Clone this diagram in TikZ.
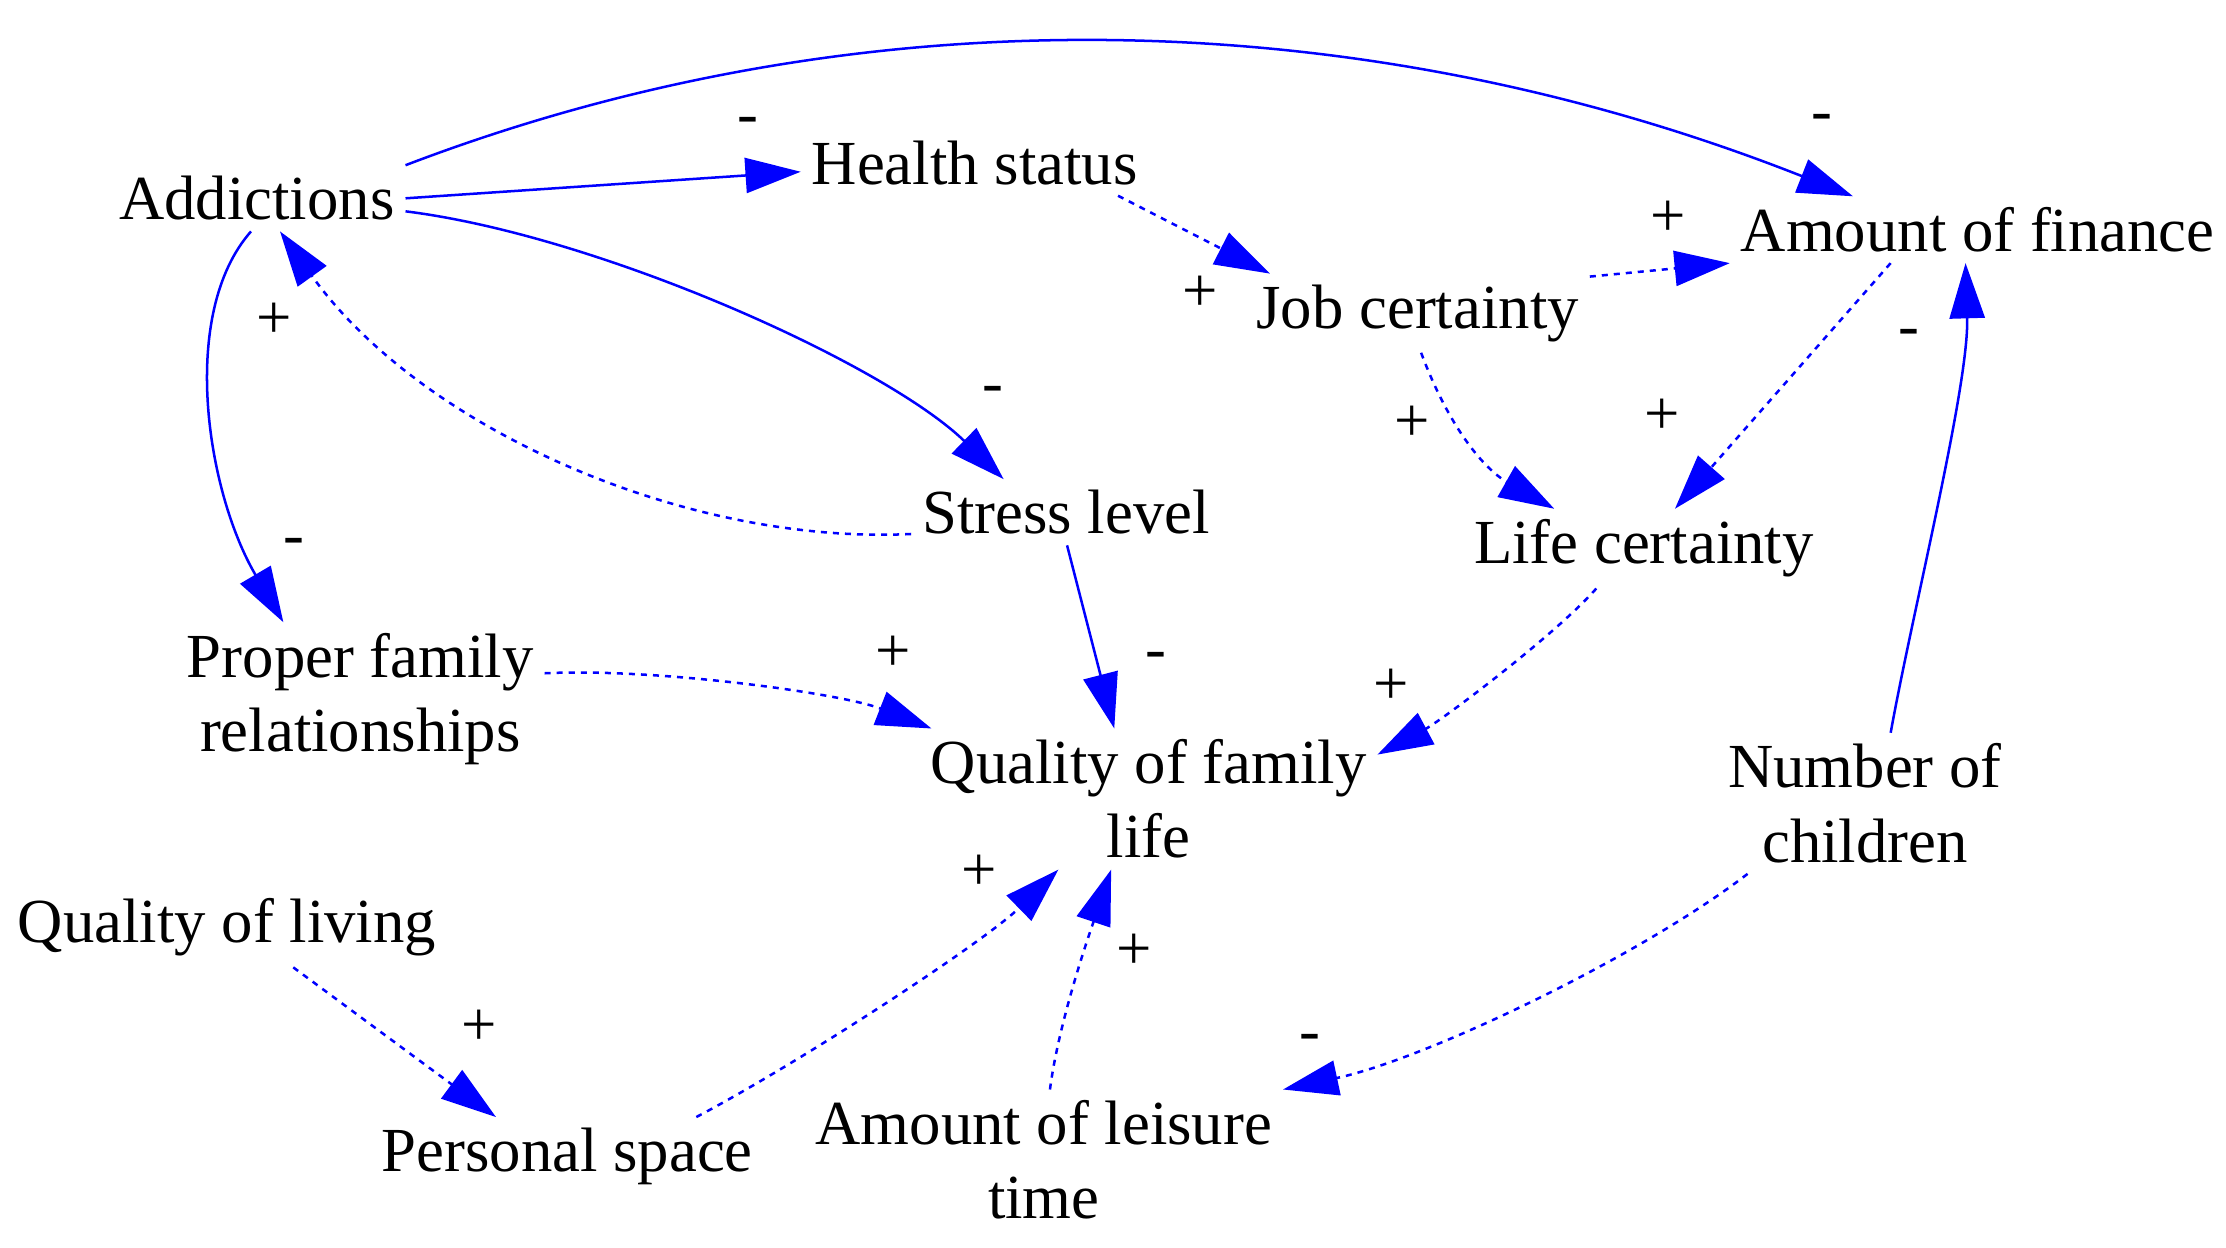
\documentclass[tikz,border=0pt]{standalone}
\usepackage{fontspec}
\setmainfont{Liberation Serif}
\usetikzlibrary{arrows.meta}

\begin{document}
\begin{tikzpicture}[
      x=0.01cm, y=0.01cm,
      varbox/.style={
         inner sep=2pt,
         align=center,
         font=\fontsize{12.5}{14.8}\selectfont
      },
      polarity/.style={
         inner sep=0pt,
         font=\fontsize{12.5}{14.8}\selectfont
      },
      link/.style={->, draw=blue, line width=0.5pt},
      soft link/.style={link, dash pattern=on 1.2pt off 1.2pt},
      >={Triangle[length=11pt,width=7pt]}
    ]
    \useasboundingbox (0,0) rectangle (1560,-874.6);
    % variables
    \node (addict)  [varbox] at (180,-139)    {Addictions};
    \node (health)  [varbox] at (683,-114)    {Health status};
    \node (finance) [varbox] at (1386,-161)   {Amount of finance};
    \node (job)     [varbox] at (993.5,-219.5) {Job certainty};
    \node (stress)  [varbox] at (747,-359)    {Stress level};
    \node (life)    [varbox] at (1152,-384.5) {Life certainty};
    \node (proper)  [varbox] at (252.5,-490)  {Proper family\\relationships};
    \node (qof)     [varbox] at (805,-560)    {Quality of family\\life};
    \node (nchild)  [varbox] at (1307,-563)   {Number of\\children};
    \node (qol)     [varbox] at (159,-650)    {Quality of living};
    \node (space)   [varbox] at (397.5,-810.5) {Personal space};
    \node (leisure) [varbox] at (731.5,-813)  {Amount of leisure\\time};
    % links
    \draw[link] (addict.east) -- (health.183);
    \draw[link] (addict.north east) .. controls (600,5) and (950,0) .. (finance.165);
    \draw[link] (addict.-5) .. controls (420,-165) and (620,-255) .. (stress.152);
    \draw[link] (addict.-100) .. controls (125,-220) and (145,-345) .. (proper.135);
    \draw[soft link] (stress.188) .. controls (480,-382) and (295,-300) .. (addict.-55);
    \draw[soft link] (health.-13) -- (job.165);
    \draw[soft link] (job.12) -- (finance.south west);
    \draw[soft link] (finance.-159) -- (life.52);
    \draw[soft link] (job.-85) to[bend right=20] (life.156);
    \draw[link] (nchild.70) .. controls (1340,-430) and (1380,-270) .. (finance.-110);
    \draw[link] (stress.-88) -- (qof.116);
    \draw[soft link] (proper.8) .. controls (460,-468) and (590,-486) .. (qof.162);
    \draw[soft link] (life.220) .. controls (1090,-445) and (1010,-505) .. (qof.11);
    \draw[soft link] (space.17) .. controls (560,-745) and (690,-660) .. (qof.-142);
    \draw[soft link] (leisure.85) .. controls (742,-715) and (765,-650) .. (qof.-118);
    \draw[soft link] (qol.-31) -- (space.151);
    \draw[soft link] (nchild.-149) .. controls (1150,-670) and (1000,-742) .. (leisure.north east);
    % polarities
    \node (sAH) [polarity] at (524,-88)   {-};
    \node (sAF) [polarity] at (1277,-86)  {-};
    \node (sJF) [polarity] at (1169,-153) {+};
    \node (sHJ) [polarity] at (841,-206)  {+};
    \node (sSA) [polarity] at (192,-225)  {+};
    \node (sAS) [polarity] at (696,-277)  {-};
    \node (sJL) [polarity] at (990,-297)  {+};
    \node (sFL) [polarity] at (1165,-292) {+};
    \node (sCF) [polarity] at (1338,-237) {-};
    \node (sAP) [polarity] at (206,-383)  {-};
    \node (sPQ) [polarity] at (626,-458)  {+};
    \node (sSQ) [polarity] at (810,-463)  {-};
    \node (sLQ) [polarity] at (975,-481)  {+};
    \node (sYQ) [polarity] at (686,-612)  {+};
    \node (sTQ) [polarity] at (795,-667)  {+};
    \node (sVY) [polarity] at (336,-720)  {+};
    \node (sCT) [polarity] at (918,-731)  {-};
\end{tikzpicture}
\end{document}
